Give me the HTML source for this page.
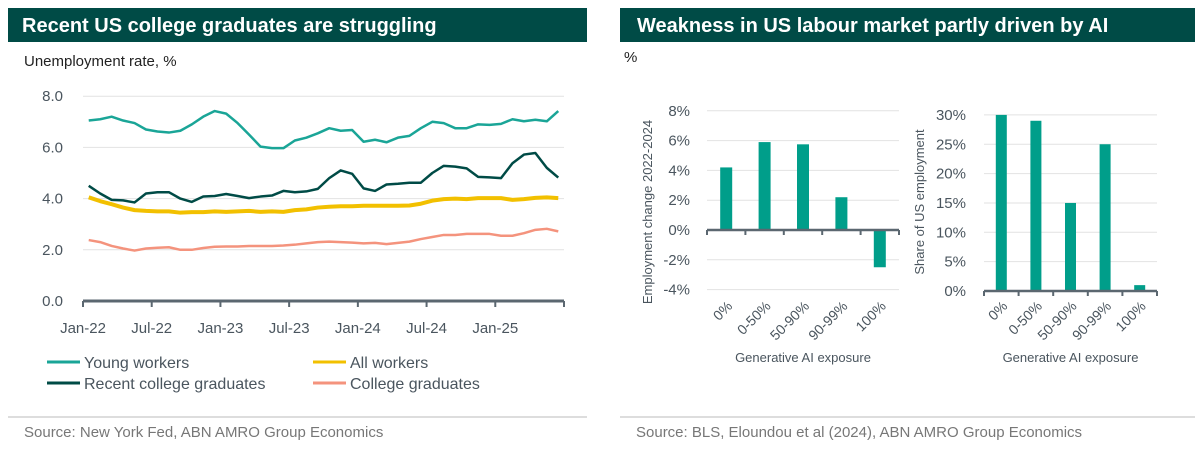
<!DOCTYPE html>
<html><head><meta charset="utf-8"><style>
body{margin:0;width:1203px;height:454px;background:#fff;overflow:hidden;font-family:"Liberation Sans",sans-serif;}
svg{position:absolute;left:0;top:0}
</style></head><body>
<svg id="s" width="1203" height="454" xmlns="http://www.w3.org/2000/svg">
<rect x="8" y="8" width="579" height="34" fill="#004b46"/>
<text x="22" y="32" fill="#fff" font-size="20" font-weight="bold">Recent US college graduates are struggling</text>
<text x="24" y="66" fill="#222" font-size="15">Unemployment rate, %</text>
<rect x="620" y="8" width="575" height="34" fill="#004b46"/>
<text x="637" y="32" fill="#fff" font-size="20" font-weight="bold">Weakness in US labour market partly driven by AI</text>
<text x="624" y="62" fill="#222" font-size="15">%</text>
<line x1="8" y1="417" x2="587" y2="417" stroke="#bbb"/>
<line x1="620" y1="417" x2="1195" y2="417" stroke="#bbb"/>
<text x="24" y="437" fill="#777" font-size="15">Source: New York Fed, ABN AMRO Group Economics</text>
<text x="636" y="437" fill="#777" font-size="15">Source: BLS, Eloundou et al (2024), ABN AMRO Group Economics</text>
<g id="line"></g><g id="bar1"></g><g id="bar2"></g>
</svg>
<script>
const months=["Jan-22","Jul-22","Jan-23","Jul-23","Jan-24","Jul-24","Jan-25"];
const yTicks=[0,2,4,6,8];
const young=[7.05,7.1,7.2,7.05,6.95,6.7,6.62,6.58,6.65,6.9,7.2,7.42,7.32,6.95,6.5,6.03,5.97,5.97,6.27,6.38,6.55,6.75,6.65,6.68,6.22,6.3,6.2,6.38,6.45,6.75,7.0,6.95,6.75,6.75,6.9,6.88,6.92,7.1,7.02,7.08,7.02,7.42];
const recentGrads=[4.5,4.2,3.95,3.93,3.85,4.2,4.25,4.25,4.0,3.87,4.08,4.1,4.18,4.1,4.02,4.08,4.12,4.3,4.25,4.28,4.38,4.8,5.1,4.97,4.4,4.3,4.55,4.58,4.62,4.62,5.0,5.28,5.25,5.18,4.85,4.83,4.8,5.38,5.72,5.78,5.2,4.82];
const allWorkers=[4.05,3.9,3.78,3.65,3.55,3.52,3.5,3.5,3.45,3.47,3.47,3.5,3.48,3.5,3.52,3.48,3.5,3.48,3.55,3.58,3.65,3.68,3.7,3.7,3.72,3.72,3.72,3.72,3.73,3.8,3.92,3.98,4.0,3.98,4.02,4.02,4.02,3.95,3.98,4.03,4.05,4.02];
const collegeGrads=[2.38,2.3,2.15,2.05,1.97,2.05,2.08,2.1,2.0,2.0,2.07,2.12,2.13,2.13,2.15,2.15,2.15,2.17,2.2,2.25,2.3,2.32,2.3,2.28,2.25,2.27,2.22,2.27,2.32,2.42,2.5,2.58,2.58,2.62,2.62,2.62,2.55,2.55,2.65,2.78,2.82,2.72];
const exposure=["0%","0-50%","50-90%","90-99%","100%"];
const empChange=[4.2,5.9,5.75,2.2,-2.5];
const empChangeTicks=[-4,-2,0,2,4,6,8];
const empShare=[30,29,15,25,1];
const empShareTicks=[0,5,10,15,20,25,30];

const NS="http://www.w3.org/2000/svg";
function mk(tag,attrs,parent,txt){const e=document.createElementNS(NS,tag);for(const k in attrs)e.setAttribute(k,attrs[k]);if(txt!==undefined)e.textContent=txt;parent.appendChild(e);return e;}
const AX="#5b6770",LBL="#4a555e";

const lg=document.getElementById('line');
const x0=83,x1=564,n=young.length,step=(x1-x0)/n;
const X=i=>x0+(i+0.5)*step;
const Y=v=>301-v*25.6;
yTicks.forEach(t=>{
  if(t>0){const g=mk('line',{x1:x0,x2:x1,y1:Y(t),y2:Y(t),stroke:'#e2e2e2','stroke-width':1},lg);
  
  }
  const l=mk('text',{x:63,y:Y(t)+5,'text-anchor':'end','font-size':15,fill:LBL},lg,t.toFixed(1));
  
  
});
const series=[[young,'#1aa597',2.5,'line-young-workers'],[allWorkers,'#f2c000',4,'line-all-workers'],[collegeGrads,'#f4937d',2.5,'line-college-graduates'],[recentGrads,'#004b46',2.5,'line-recent-college-graduates']];
series.forEach(([d,c,w,name])=>{
  const p=mk('polyline',{points:d.map((v,i)=>X(i)+','+Y(v)).join(' '),fill:'none',stroke:c,'stroke-width':w,'stroke-linejoin':'round'},lg);
  
  
});
const ax=mk('line',{x1:x0,x2:x1,y1:301,y2:301,stroke:AX,'stroke-width':3},lg);


for(let k=0;k<=7;k++){const tx=x0+k*6*step;const t=mk('line',{x1:tx,x2:tx,y1:301,y2:307,stroke:AX,'stroke-width':2},lg);
  
  }
months.forEach((m,k)=>{const l=mk('text',{x:x0+k*6*step,y:333,'text-anchor':'middle','font-size':15,fill:LBL},lg,m);
  
  });
const leg=[["Young workers",'#1aa597',47,362],["All workers",'#f2c000',313,362],["Recent college graduates",'#004b46',47,383],["College graduates",'#f4937d',313,383]];
leg.forEach(([t,c,x,y])=>{
  const g=mk('g',{},lg);
  
  
  mk('line',{x1:x,x2:x+33,y1:y,y2:y,stroke:c,'stroke-width':3},g);
  mk('text',{x:x+37,y:y+6,'font-size':16,fill:LBL},g,t);
});

function barChart(gid,vals,ticks,o){
  const g=document.getElementById(gid);
  const Yb=v=>o.zeroY-v*o.ppu;
  ticks.forEach(t=>{
    if(t!==0){const gl=mk('line',{x1:o.left,x2:o.right,y1:Yb(t),y2:Yb(t),stroke:'#e2e2e2','stroke-width':1},g);
    
    }
    const l=mk('text',{x:o.labX,y:Yb(t)+5,'text-anchor':'end','font-size':15,fill:LBL},g,t+'%');
    
    
  });
  const cw=(o.right-o.left)/vals.length;
  vals.forEach((v,i)=>{
    const cx=o.left+(i+0.5)*cw;
    const b=mk('rect',{x:cx-o.bw/2,y:Math.min(Yb(v),o.zeroY),width:o.bw,height:Math.abs(v*o.ppu),fill:'#009e8a'},g);
    
    
    const l=mk('text',{x:cx+7,y:o.labY,'text-anchor':'end','font-size':14,fill:LBL,transform:`rotate(-45 ${cx+7} ${o.labY})`},g,exposure[i]);
    
    
  });
  const a=mk('line',{x1:o.left,x2:o.right,y1:o.zeroY,y2:o.zeroY,stroke:AX,'stroke-width':2.5},g);
  
  
  for(let k=0;k<=vals.length;k++){const tx=o.left+k*cw;const t=mk('line',{x1:tx,x2:tx,y1:o.zeroY,y2:o.zeroY+5,stroke:AX,'stroke-width':2},g);
    
    }
  const xt=mk('text',{x:(o.left+o.right)/2,y:362,'text-anchor':'middle','font-size':13,fill:LBL},g,'Generative AI exposure');
  
  
  const yt=mk('text',{x:o.ytX,y:o.ytY,'text-anchor':'middle','font-size':13,fill:LBL,transform:`rotate(-90 ${o.ytX} ${o.ytY})`},g,o.ytitle);
  
  
}
barChart('bar1',empChange,empChangeTicks,{left:707,right:899,zeroY:230,ppu:14.9,bw:12,labX:690,labY:307,ytX:652,ytY:212,ytitle:'Employment change 2022-2024'});
barChart('bar2',empShare,empShareTicks,{left:984,right:1157,zeroY:291,ppu:5.87,bw:11,labX:966,labY:307,ytX:924,ytY:202,ytitle:'Share of US employment'});
</script>
</body></html>
